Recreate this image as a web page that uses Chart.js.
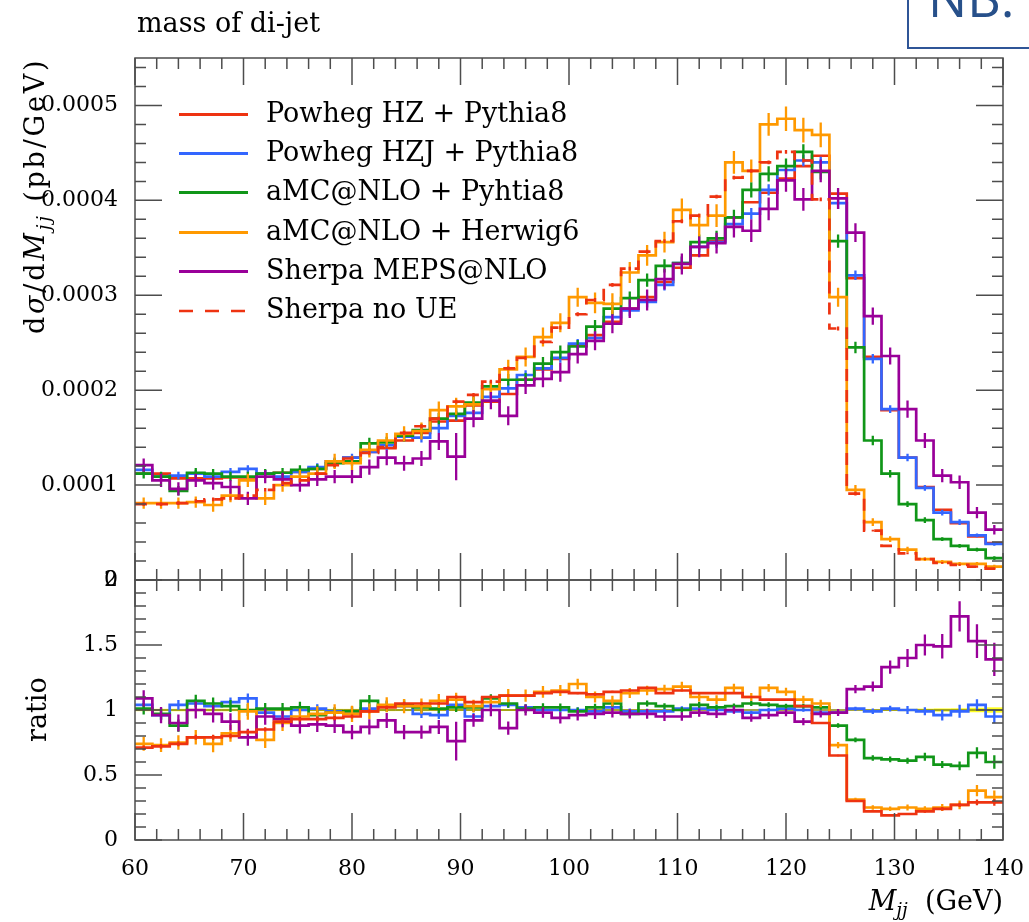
<!DOCTYPE html>
<html lang="en">
<head>
    <meta charset="UTF-8">
    <title>mass of di-jet</title>
    <style>
        body {
            margin: 0;
            background: #ffffff;
        }
        #page {
            position: relative;
            width: 1029px;
            height: 922px;
            overflow: hidden;
            background: #ffffff;
            font-family: 'DejaVu Serif', serif;
            color: #000000;
        }
        canvas {
            position: absolute;
            left: 0;
        }
        #upper { top: 0; }
        #lower { top: 560px; }
        .txt {
            position: absolute;
            white-space: nowrap;
            font-size: 27px;
            line-height: 30px;
        }
        .rot {
            transform-origin: 0 0;
            transform: rotate(-90deg);
        }
        sub {
            font-size: 0.68em;
            line-height: 0;
            vertical-align: -0.32em;
        }
        .leg {
            position: absolute;
            left: 179px;
            height: 40px;
            line-height: 40px;
            font-size: 27px;
            white-space: nowrap;
        }
        .sw {
            display: inline-block;
            width: 69px;
            height: 3px;
            vertical-align: middle;
            margin-right: 18px;
        }
        #nb {
            position: absolute;
            left: 907px;
            top: -10px;
            width: 140px;
            height: 59px;
            border: 2px solid #2f5597;
            box-sizing: border-box;
            background: #ffffff;
        }
        #nbtext {
            position: absolute;
            left: 928px;
            top: -29px;
            font-family: 'Open Sans', sans-serif;
            font-size: 52px;
            line-height: 52px;
            color: #27508a;
        }
    </style>
    <script src="https://cdn.jsdelivr.net/npm/chart.js"></script>
</head>
<body>
    <div id="page">
        <canvas id="upper" width="1029" height="600"></canvas>
        <canvas id="lower" width="1029" height="362"></canvas>

        <div class="txt" style="left:137px; top:8px;">mass of di-jet</div>
        <div class="txt rot" style="left:20px; top:334px; letter-spacing:2.8px;">d<i>σ</i>/d<i>M</i><sub><i>jj</i></sub> (pb/GeV)</div>
        <div class="txt rot" style="left:22px; top:742px;">ratio</div>
        <div class="txt" style="right:26px; top:886px;"><i>M</i><sub><i>jj</i></sub>&nbsp; (GeV)</div>

        <div class="leg" style="top:93px;"><span class="sw" style="background:#EE3311"></span>Powheg HZ + Pythia8</div>
        <div class="leg" style="top:132px;"><span class="sw" style="background:#3366FF"></span>Powheg HZJ + Pythia8</div>
        <div class="leg" style="top:171px;"><span class="sw" style="background:#109618"></span>aMC@NLO + Pyhtia8</div>
        <div class="leg" style="top:211px;"><span class="sw" style="background:#FF9900"></span>aMC@NLO + Herwig6</div>
        <div class="leg" style="top:250px;"><span class="sw" style="background:#990099"></span>Sherpa MEPS@NLO</div>
        <div class="leg" style="top:289px;"><svg class="sw" style="height:6px" width="69" height="6"><line x1="0" y1="3" x2="69" y2="3" stroke="#EE3311" stroke-width="2.5" stroke-dasharray="14 12"/></svg>Sherpa no UE</div>

        <div id="nb"></div>
        <div id="nbtext">NB.</div>
    </div>

    <script>
        // bin edges of the M_jj histogram (GeV)
        const binEdges = [60, 61.6, 63.2, 64.8, 66.4, 68, 69.6, 71.2, 72.8, 74.4,
            76, 77.6, 79.2, 80.8, 82.4, 84, 85.6, 87.2, 88.8, 90.4,
            92, 93.6, 95.2, 96.8, 98.4, 100, 101.6, 103.2, 104.8, 106.4,
            108, 109.6, 111.2, 112.8, 114.4, 116, 117.6, 119.2, 120.8, 122.4,
            124, 125.6, 127.2, 128.8, 130.4, 132, 133.6, 135.2, 136.8, 138.4, 140];

        // dsigma/dM_jj, in units of 1e-4 pb/GeV
        const powhegHZ = [1.12, 1.12, 1.07, 1.07, 1.07, 1.08, 1.08, 1.12, 1.13, 1.14,
            1.17, 1.25, 1.29, 1.35, 1.39, 1.47, 1.55, 1.67, 1.68, 1.84,
            1.88, 1.96, 2.11, 2.22, 2.33, 2.47, 2.58, 2.72, 2.86, 2.98,
            3.14, 3.29, 3.42, 3.57, 3.82, 3.98, 4.08, 4.23, 4.36, 4.47,
            4.07, 3.18, 2.35, 1.79, 1.29, 0.98, 0.74, 0.60, 0.46, 0.39];
        const powhegHZJ = [1.16, 1.09, 1.10, 1.12, 1.09, 1.14, 1.17, 1.12, 1.09, 1.14,
            1.19, 1.25, 1.29, 1.35, 1.42, 1.51, 1.50, 1.60, 1.73, 1.76,
            1.93, 2.02, 2.16, 2.23, 2.34, 2.49, 2.55, 2.77, 2.84, 2.93,
            3.11, 3.34, 3.51, 3.56, 3.75, 3.86, 4.11, 4.32, 4.42, 4.40,
            3.97, 3.21, 2.33, 1.80, 1.29, 0.97, 0.71, 0.61, 0.47, 0.38];
        const amcPythia = [1.12, 1.09, 0.94, 1.13, 1.12, 1.09, 1.09, 1.12, 1.13, 1.16,
            1.17, 1.23, 1.25, 1.44, 1.45, 1.52, 1.58, 1.70, 1.75, 1.87,
            2.04, 2.11, 2.11, 2.28, 2.40, 2.46, 2.67, 2.86, 2.97, 3.16,
            3.31, 3.34, 3.56, 3.60, 3.82, 4.11, 4.28, 4.36, 4.51, 4.30,
            3.57, 2.45, 1.47, 1.12, 0.80, 0.63, 0.43, 0.36, 0.32, 0.23];
        const amcHerwig = [0.81, 0.81, 0.81, 0.82, 0.79, 0.89, 1.05, 0.86, 1.00, 1.09,
            1.12, 1.25, 1.23, 1.37, 1.47, 1.54, 1.57, 1.79, 1.83, 1.85,
            2.01, 2.22, 2.35, 2.56, 2.71, 2.98, 2.92, 2.91, 3.24, 3.42,
            3.56, 3.90, 3.74, 3.84, 4.40, 4.31, 4.80, 4.86, 4.74, 4.69,
            2.98, 0.95, 0.61, 0.43, 0.32, 0.22, 0.19, 0.17, 0.17, 0.14];
        const sherpa = [1.21, 1.05, 0.96, 1.05, 1.02, 0.98, 0.86, 1.09, 1.06, 1.00,
            1.06, 1.09, 1.09, 1.19, 1.29, 1.23, 1.28, 1.46, 1.30, 1.70,
            1.89, 1.73, 2.05, 2.12, 2.19, 2.38, 2.52, 2.70, 2.86, 2.95,
            3.17, 3.33, 3.51, 3.55, 3.72, 3.68, 3.91, 4.21, 4.01, 4.31,
            4.02, 3.66, 2.78, 2.36, 1.80, 1.47, 1.10, 1.03, 0.71, 0.53];
        const sherpaNoUE = [0.80, 0.80, 0.81, 0.83, 0.85, 0.86, 0.89, 0.95, 1.02, 1.05,
            1.12, 1.21, 1.28, 1.34, 1.40, 1.55, 1.62, 1.70, 1.88, 1.95,
            2.09, 2.23, 2.34, 2.51, 2.66, 2.80, 2.95, 3.11, 3.28, 3.46,
            3.57, 3.78, 3.84, 4.04, 4.24, 4.31, 4.40, 4.51, 4.42, 4.01,
            2.65, 0.91, 0.52, 0.36, 0.28, 0.22, 0.18, 0.16, 0.14, 0.12];

        // half-lengths of the error bars, same units
        const powhegHZErr = [0.010, 0.010, 0.010, 0.010, 0.010, 0.010, 0.010, 0.010, 0.010, 0.010,
            0.011, 0.011, 0.011, 0.012, 0.012, 0.012, 0.013, 0.013, 0.013, 0.014,
            0.014, 0.015, 0.015, 0.015, 0.016, 0.016, 0.016, 0.017, 0.017, 0.017,
            0.018, 0.018, 0.018, 0.019, 0.019, 0.019, 0.020, 0.020, 0.020, 0.020,
            0.019, 0.017, 0.015, 0.013, 0.011, 0.010, 0.009, 0.008, 0.008, 0.008];
        const powhegHZJErr = [0.04, 0.04, 0.04, 0.04, 0.04, 0.04, 0.04, 0.04, 0.04, 0.04,
            0.04, 0.04, 0.04, 0.04, 0.05, 0.05, 0.05, 0.05, 0.05, 0.05,
            0.05, 0.05, 0.05, 0.05, 0.05, 0.05, 0.05, 0.06, 0.06, 0.06,
            0.06, 0.06, 0.06, 0.06, 0.06, 0.06, 0.06, 0.06, 0.06, 0.06,
            0.06, 0.05, 0.05, 0.04, 0.04, 0.03, 0.03, 0.03, 0.02, 0.02];
        const amcPythiaErr = [0.05, 0.05, 0.05, 0.05, 0.05, 0.05, 0.05, 0.05, 0.05, 0.05,
            0.05, 0.05, 0.05, 0.06, 0.06, 0.06, 0.06, 0.06, 0.06, 0.06,
            0.06, 0.06, 0.07, 0.07, 0.07, 0.07, 0.07, 0.07, 0.07, 0.07,
            0.07, 0.07, 0.08, 0.08, 0.08, 0.08, 0.08, 0.08, 0.08, 0.08,
            0.07, 0.06, 0.05, 0.04, 0.03, 0.03, 0.02, 0.02, 0.02, 0.02];
        const amcHerwigErr = [0.06, 0.06, 0.06, 0.06, 0.07, 0.07, 0.07, 0.07, 0.07, 0.07,
            0.07, 0.08, 0.08, 0.08, 0.08, 0.08, 0.09, 0.09, 0.09, 0.09,
            0.09, 0.10, 0.10, 0.10, 0.10, 0.10, 0.11, 0.11, 0.11, 0.11,
            0.11, 0.12, 0.12, 0.12, 0.12, 0.12, 0.12, 0.13, 0.13, 0.13,
            0.10, 0.05, 0.04, 0.03, 0.03, 0.02, 0.02, 0.02, 0.02, 0.02];
        const sherpaErr = [0.07, 0.07, 0.07, 0.07, 0.07, 0.07, 0.07, 0.07, 0.07, 0.07,
            0.07, 0.07, 0.07, 0.08, 0.08, 0.08, 0.08, 0.09, 0.25, 0.09,
            0.09, 0.10, 0.09, 0.09, 0.10, 0.10, 0.10, 0.10, 0.10, 0.11,
            0.11, 0.11, 0.11, 0.11, 0.11, 0.12, 0.12, 0.12, 0.12, 0.12,
            0.11, 0.10, 0.09, 0.09, 0.09, 0.08, 0.07, 0.07, 0.06, 0.05];
        const sherpaNoUEErr = [0.02, 0.02, 0.02, 0.02, 0.02, 0.02, 0.02, 0.02, 0.02, 0.02,
            0.02, 0.02, 0.02, 0.02, 0.02, 0.02, 0.02, 0.02, 0.02, 0.02,
            0.02, 0.02, 0.02, 0.02, 0.02, 0.02, 0.02, 0.02, 0.02, 0.02,
            0.02, 0.02, 0.02, 0.02, 0.02, 0.02, 0.02, 0.02, 0.02, 0.02,
            0.02, 0.02, 0.01, 0.01, 0.01, 0.01, 0.01, 0.01, 0.01, 0.01];

        // ratio to Powheg HZ + Pythia8
        const powhegHZJRatio = [1.04, 0.96, 1.04, 1.05, 1.03, 1.06, 1.09, 0.98, 0.95, 1.00,
            1.01, 0.99, 0.99, 1.01, 1.03, 1.03, 0.97, 0.96, 1.04, 0.95,
            1.03, 1.04, 1.02, 1.00, 1.00, 1.00, 0.99, 1.02, 0.99, 0.99,
            0.99, 1.01, 1.01, 1.00, 0.99, 0.98, 1.00, 1.01, 1.00, 0.98,
            0.98, 1.01, 0.99, 1.01, 1.00, 0.99, 0.96, 0.99, 1.04, 0.95];
        const amcPythiaRatio = [1.01, 0.97, 0.88, 1.07, 1.05, 1.03, 1.00, 1.01, 1.01, 1.02,
            0.96, 0.98, 0.99, 1.07, 1.03, 1.04, 1.02, 1.01, 1.02, 1.02,
            1.09, 1.05, 1.01, 1.02, 1.02, 0.99, 1.02, 1.05, 0.97, 1.05,
            1.03, 1.00, 1.04, 1.02, 1.03, 1.05, 1.04, 1.03, 1.03, 1.02,
            0.88, 0.77, 0.63, 0.62, 0.61, 0.64, 0.58, 0.57, 0.67, 0.60];
        const amcHerwigRatio = [0.74, 0.73, 0.75, 0.79, 0.74, 0.82, 0.99, 0.77, 0.90, 0.95,
            0.97, 0.98, 0.97, 0.99, 1.04, 1.03, 1.03, 1.07, 1.08, 1.03,
            1.06, 1.11, 1.11, 1.14, 1.15, 1.20, 1.10, 1.07, 1.13, 1.15,
            1.16, 1.18, 1.10, 1.08, 1.17, 1.10, 1.17, 1.14, 1.08, 1.05,
            0.73, 0.31, 0.25, 0.24, 0.25, 0.24, 0.25, 0.27, 0.38, 0.33];
        const sherpaRatio = [1.09, 0.96, 0.90, 1.00, 0.97, 0.91, 0.79, 0.95, 0.93, 0.88,
            0.89, 0.88, 0.83, 0.87, 0.92, 0.83, 0.83, 0.87, 0.76, 0.92,
            1.00, 0.86, 1.00, 0.98, 0.94, 0.96, 0.97, 0.98, 0.97, 0.97,
            0.95, 0.95, 0.98, 0.97, 1.00, 0.94, 0.96, 0.98, 0.91, 0.97,
            0.98, 1.16, 1.18, 1.33, 1.40, 1.50, 1.49, 1.72, 1.53, 1.39];
        const sherpaNoUERatio = [0.71, 0.72, 0.74, 0.79, 0.79, 0.80, 0.83, 0.85, 0.91, 0.93,
            0.93, 0.94, 0.95, 0.99, 1.02, 1.05, 1.05, 1.05, 1.10, 1.06,
            1.10, 1.11, 1.11, 1.13, 1.14, 1.13, 1.12, 1.14, 1.15, 1.17,
            1.13, 1.15, 1.13, 1.13, 1.13, 1.10, 1.08, 1.08, 1.03, 0.90,
            0.65, 0.30, 0.22, 0.19, 0.20, 0.22, 0.24, 0.27, 0.29, 0.29];

        // axis ticks
        const xTicks = [60, 70, 80, 90, 100, 110, 120, 130, 140];
        const xTickLabels = ['60', '70', '80', '90', '100', '110', '120', '130', '140'];
        const yTicksUpper = [0, 0.0001, 0.0002, 0.0003, 0.0004, 0.0005];
        const yLabelsUpper = ['0', '0.0001', '0.0002', '0.0003', '0.0004', '0.0005'];
        const yTicksRatio = [0, 0.5, 1, 1.5, 2];
        const yLabelsRatio = ['0', '0.5', '1', '1.5', '2'];

        const colors = {
            red: '#EE3311',
            blue: '#3366FF',
            green: '#109618',
            orange: '#FF9900',
            purple: '#990099'
        };
        const tickFont = { family: "'DejaVu Serif', serif", size: 22 };

        function histSet(label, color, vals, errs, order, dash) {
            const pts = vals.map((v, i) => ({ x: binEdges[i], y: v }));
            pts.push({ x: binEdges[vals.length], y: vals[vals.length - 1] });
            return {
                label: label,
                data: pts,
                vals: vals,
                errs: errs,
                borderColor: color,
                borderWidth: 2.7,
                borderDash: dash || [],
                borderJoinStyle: 'miter',
                stepped: 'before',
                pointRadius: 0,
                fill: false,
                order: order
            };
        }

        const toPb = arr => arr.map(v => v * 1e-4);
        const relErr = errs => errs.map((e, i) => e / powhegHZ[i]);

        // vertical error bar at each bin centre
        const errorBars = {
            id: 'errorBars',
            afterDatasetDraw(chart, args) {
                const ds = chart.data.datasets[args.index];
                if (!ds.errs) return;
                const xs = chart.scales.x, ys = chart.scales.y, ctx = chart.ctx, a = chart.chartArea;
                ctx.save();
                ctx.beginPath();
                ctx.rect(a.left, a.top, a.right - a.left, a.bottom - a.top);
                ctx.clip();
                ctx.strokeStyle = ds.borderColor;
                ctx.lineWidth = 2.3;
                ctx.setLineDash([]);
                ctx.beginPath();
                ds.vals.forEach((v, i) => {
                    const xc = xs.getPixelForValue((binEdges[i] + binEdges[i + 1]) / 2);
                    ctx.moveTo(xc, ys.getPixelForValue(v - ds.errs[i]));
                    ctx.lineTo(xc, ys.getPixelForValue(v + ds.errs[i]));
                });
                ctx.stroke();
                ctx.restore();
            }
        };

        // frame with inward ticks on all four sides
        const frame = {
            id: 'frame',
            afterDraw(chart, args, opts) {
                const ctx = chart.ctx, a = chart.chartArea;
                const xs = chart.scales.x, ys = chart.scales.y;
                ctx.save();
                ctx.strokeStyle = '#4d4d4d';
                ctx.lineWidth = 1.5;
                ctx.strokeRect(a.left, a.top, a.right - a.left, a.bottom - a.top);
                ctx.beginPath();
                for (let k = 0; k <= 40; k++) {
                    const px = xs.getPixelForValue(60 + 2 * k);
                    const len = k % 5 === 0 ? 27 : 11;
                    ctx.moveTo(px, a.bottom);
                    ctx.lineTo(px, a.bottom - len);
                    ctx.moveTo(px, a.top);
                    ctx.lineTo(px, a.top + len);
                }
                for (let k = 0; k * opts.yStep <= opts.yMax + 1e-12; k++) {
                    const py = ys.getPixelForValue(k * opts.yStep);
                    const len = k % 5 === 0 ? 27 : 11;
                    ctx.moveTo(a.left, py);
                    ctx.lineTo(a.left + len, py);
                    ctx.moveTo(a.right, py);
                    ctx.lineTo(a.right - len, py);
                }
                ctx.stroke();
                ctx.restore();
            }
        };

        // yellow uncertainty band of the reference around 1
        const refBand = {
            id: 'refBand',
            beforeDatasetsDraw(chart) {
                const xs = chart.scales.x, ys = chart.scales.y, ctx = chart.ctx, a = chart.chartArea;
                ctx.save();
                ctx.fillStyle = '#ffff22';
                powhegHZ.forEach((v, i) => {
                    const e = powhegHZErr[i] / v;
                    const x0 = xs.getPixelForValue(binEdges[i]);
                    const x1 = xs.getPixelForValue(binEdges[i + 1]);
                    const y0 = ys.getPixelForValue(1 + e);
                    const y1 = ys.getPixelForValue(1 - e);
                    ctx.fillRect(x0, y0, x1 - x0, y1 - y0);
                });
                const y1 = ys.getPixelForValue(1);
                ctx.strokeStyle = 'rgba(0,0,0,0.7)';
                ctx.lineWidth = 1;
                ctx.beginPath();
                ctx.moveTo(a.left, y1);
                ctx.lineTo(a.right, y1);
                ctx.stroke();
                ctx.restore();
            }
        };

        const upperSets = [
            histSet('Powheg HZ + Pythia8', colors.red, toPb(powhegHZ), null, 6),
            histSet('Powheg HZJ + Pythia8', colors.blue, toPb(powhegHZJ), toPb(powhegHZJErr), 5),
            histSet('aMC@NLO + Pyhtia8', colors.green, toPb(amcPythia), toPb(amcPythiaErr), 4),
            histSet('aMC@NLO + Herwig6', colors.orange, toPb(amcHerwig), toPb(amcHerwigErr), 3),
            histSet('Sherpa MEPS@NLO', colors.purple, toPb(sherpa), toPb(sherpaErr), 2),
            histSet('Sherpa no UE', colors.red, toPb(sherpaNoUE), toPb(sherpaNoUEErr), 1, [12, 9])
        ];

        const ratioSets = [
            histSet('Powheg HZJ + Pythia8', colors.blue, powhegHZJRatio, relErr(powhegHZJErr), 5),
            histSet('aMC@NLO + Pyhtia8', colors.green, amcPythiaRatio, relErr(amcPythiaErr), 4),
            histSet('aMC@NLO + Herwig6', colors.orange, amcHerwigRatio, relErr(amcHerwigErr), 3),
            histSet('Sherpa MEPS@NLO', colors.purple, sherpaRatio, relErr(sherpaErr), 2),
            histSet('Sherpa no UE', colors.red, sherpaNoUERatio, relErr(sherpaNoUEErr), 1)
        ];

        function yScale(max, ticks, labels) {
            return {
                min: 0,
                max: max,
                afterFit: s => {
                    s.width = 135;
                    s.paddingTop = 0;
                    s.paddingBottom = 0;
                },
                afterBuildTicks: s => { s.ticks = ticks.map(v => ({ value: v })); },
                grid: { display: false, drawTicks: false },
                border: { display: false },
                ticks: {
                    padding: 17,
                    color: '#000000',
                    font: tickFont,
                    callback: (v, i) => labels[i]
                }
            };
        }

        new Chart(document.getElementById('upper'), {
            type: 'line',
            data: { datasets: upperSets },
            options: {
                responsive: false,
                animation: false,
                events: [],
                layout: { padding: { top: 58, right: 26, bottom: 20, left: 0 } },
                plugins: {
                    legend: { display: false },
                    tooltip: { enabled: false },
                    frame: { yStep: 0.00002, yMax: 0.00055 }
                },
                scales: {
                    x: { type: 'linear', min: 60, max: 140, display: false },
                    y: yScale(0.00055, yTicksUpper, yLabelsUpper)
                }
            },
            plugins: [frame, errorBars]
        });

        new Chart(document.getElementById('lower'), {
            type: 'line',
            data: { datasets: ratioSets },
            options: {
                responsive: false,
                animation: false,
                events: [],
                layout: { padding: { top: 20, right: 26, bottom: 0, left: 0 } },
                plugins: {
                    legend: { display: false },
                    tooltip: { enabled: false },
                    frame: { yStep: 0.1, yMax: 2 }
                },
                scales: {
                    x: {
                        type: 'linear',
                        min: 60,
                        max: 140,
                        afterFit: s => {
                            s.height = 82;
                            s.paddingLeft = 0;
                            s.paddingRight = 0;
                        },
                        afterBuildTicks: s => { s.ticks = xTicks.map(v => ({ value: v })); },
                        grid: { display: false, drawTicks: false },
                        border: { display: false },
                        ticks: {
                            padding: 16,
                            maxRotation: 0,
                            autoSkip: false,
                            color: '#000000',
                            font: tickFont,
                            callback: (v, i) => xTickLabels[i]
                        }
                    },
                    y: yScale(2, yTicksRatio, yLabelsRatio)
                }
            },
            plugins: [refBand, frame, errorBars]
        });
    </script>
</body>
</html>
